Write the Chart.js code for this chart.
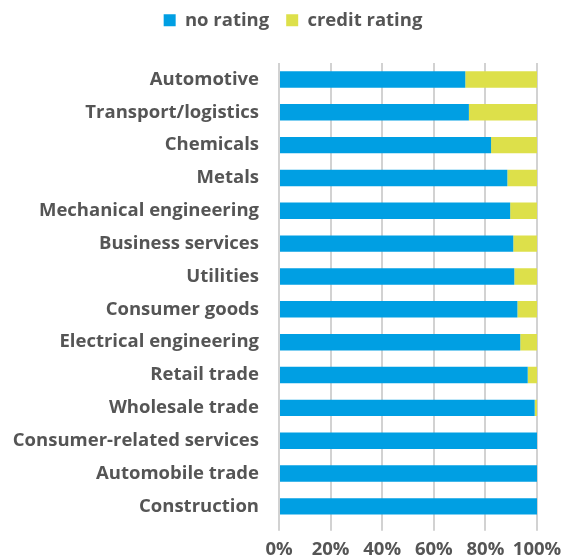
<!DOCTYPE html>
<html>
<head>
<meta charset="utf-8">
<script src="https://cdn.jsdelivr.net/npm/chart.js@4.4.0/dist/chart.umd.min.js"></script>
<style>
  html, body { margin: 0; padding: 0; background: #fff; }
  #wrap { width: 566px; height: 558px; }
</style>
</head>
<body>
<div id="wrap"><canvas id="myChart"></canvas></div>
<script>
var categories = ['Automotive', 'Transport/logistics', 'Chemicals', 'Metals', 'Mechanical engineering',
  'Business services', 'Utilities', 'Consumer goods', 'Electrical engineering', 'Retail trade',
  'Wholesale trade', 'Consumer-related services', 'Automobile trade', 'Construction'];
var noRating = [72.2, 73.6, 82.2, 88.5, 89.6, 90.8, 91.2, 92.4, 93.5, 96.4, 99.1, 100, 100, 100];
var creditRating = [27.8, 26.4, 17.8, 11.5, 10.4, 9.2, 8.8, 7.6, 6.5, 3.6, 0.9, 0, 0, 0];
var tickStep = 20; // 0%, 20%, ... 100%

var blue = '#009fe3';
var yellow = '#dde04a';
var textColor = '#555555';
var gridColor = '#d2d2d2';
var fontFamily = "'Open Sans', sans-serif";

Chart.defaults.font.family = fontFamily;
Chart.defaults.font.weight = 'bold';
Chart.defaults.color = textColor;

// legend: extra room under it, and nudged a bit to the right like the original
var legendTweak = {
  id: 'legendTweak',
  beforeInit: function(chart) {
    var origFit = chart.legend.fit;
    chart.legend.fit = function() {
      origFit.bind(chart.legend)();
      this.height += 23.5;
    };
  },
  afterLayout: function(chart) {
    chart.legend.left += 18;
    chart.legend.right += 18;
  }
};

var ctx = document.getElementById('myChart').getContext('2d');
var myChart = new Chart(ctx, {
  type: 'bar',
  data: {
    labels: categories,
    datasets: [
      { label: 'no rating', data: noRating, backgroundColor: blue, barPercentage: 0.5, categoryPercentage: 1 },
      { label: 'credit rating', data: creditRating, backgroundColor: yellow, barPercentage: 0.5, categoryPercentage: 1 }
    ]
  },
  options: {
    indexAxis: 'y',
    responsive: true,
    maintainAspectRatio: false,
    animation: false,
    layout: { padding: { left: 13, right: 29, top: -6, bottom: -11 } },
    plugins: {
      legend: {
        position: 'top',
        labels: { boxWidth: 12, boxHeight: 12, padding: 17, font: { size: 18.5, weight: 'bold' }, color: textColor }
      },
      tooltip: { enabled: false }
    },
    scales: {
      x: {
        stacked: true,
        min: 0,
        max: 100,
        afterFit: function(axis) { axis.paddingRight = 0; },
        grid: { display: true, color: gridColor, lineWidth: 2, tickLength: 8, drawTicks: true, drawOnChartArea: true },
        border: { display: false },
        ticks: { stepSize: tickStep, padding: 8, maxRotation: 0, minRotation: 0, autoSkip: false,
          font: { size: 18.5, weight: 'bold' }, color: textColor,
          callback: function(v) { return v + '%'; } }
      },
      y: {
        stacked: true,
        afterFit: function(axis) { axis.width = 266; },
        grid: { display: false },
        border: { display: false },
        ticks: { padding: 12, font: { size: 18.5, weight: 'bold' }, color: textColor }
      }
    }
  },
  plugins: [legendTweak]
});
</script>
</body>
</html>
